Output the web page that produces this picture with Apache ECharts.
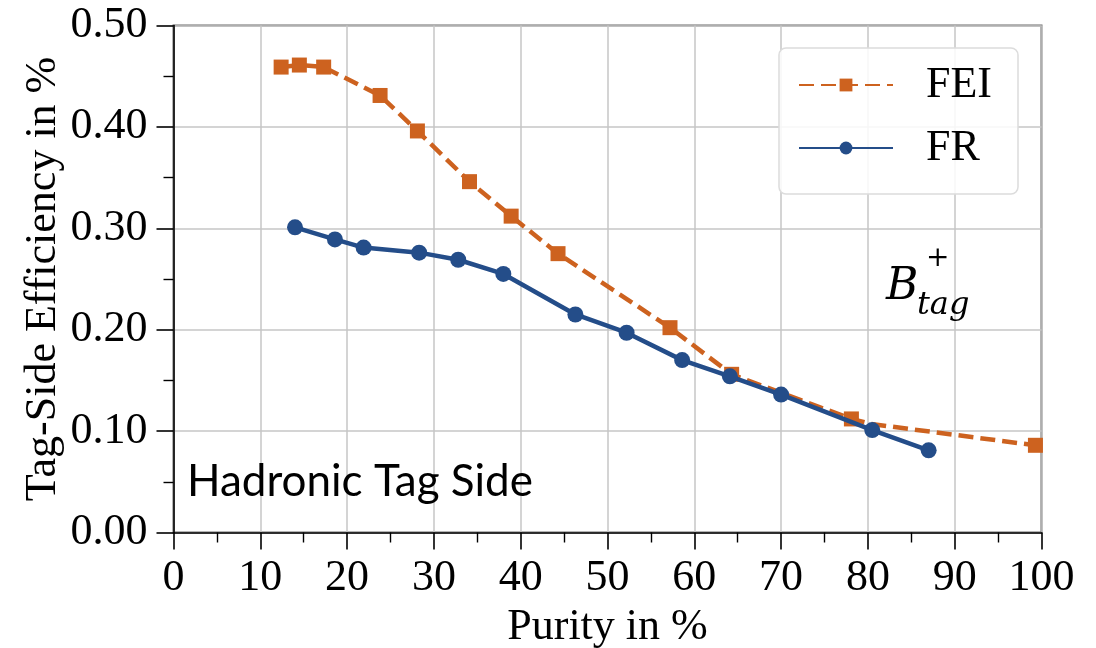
<!DOCTYPE html>
<html>
<head>
<meta charset="utf-8">
<script src="https://cdn.jsdelivr.net/npm/echarts@6/dist/echarts.min.js"></script>
<style>
  html, body { margin: 0; padding: 0; background: #fff; }
  #chart { width: 1096px; height: 648px; }
</style>
</head>
<body>
<div id="chart"></div>
<script>
// Tag-side efficiency versus purity for the hadronic B+ tag side
const seriesNames = ['FEI', 'FR'];

// FEI: purity (%) and efficiency (%)
const feiPurity = [12.4, 14.5, 17.3, 23.8, 28.1, 34.1, 38.9, 44.3, 57.2, 64.3, 78.1, 80.4, 99.3];
const feiEff    = [0.459, 0.461, 0.459, 0.431, 0.396, 0.346, 0.312, 0.275, 0.202, 0.156, 0.112, 0.107, 0.086];
// point hidden under the FR marker (line only)
const feiHiddenIdx = [11];

// FR: purity (%) and efficiency (%)
const frPurity = [14.0, 18.6, 21.9, 28.3, 32.8, 38.0, 46.3, 52.2, 58.6, 64.1, 70.0, 80.5, 87.0];
const frEff    = [0.301, 0.289, 0.281, 0.276, 0.269, 0.255, 0.215, 0.197, 0.170, 0.154, 0.136, 0.101, 0.081];

const xTicks = { min: 0, max: 100, step: 10 };
const yTicks = { min: 0, max: 0.5, step: 0.1 };

const serif = 'Liberation Serif';
const orange = '#cd621f';
const blue = '#244d89';

const feiData = feiPurity.map((x, i) =>
  feiHiddenIdx.includes(i) ? { value: [x, feiEff[i]], symbolSize: 0 } : [x, feiEff[i]]);
const frData = frPurity.map((x, i) => [x, frEff[i]]);

const chart = echarts.init(document.getElementById('chart'), null, { renderer: 'canvas' });

chart.setOption({
  animation: false,
  backgroundColor: '#fff',
  grid: {
    left: 173.5, right: 54.5, top: 25.5, bottom: 115.5,
    containLabel: false,
    outerBoundsMode: 'none',
    show: true, borderColor: '#6a6a6a', borderWidth: 2, backgroundColor: '#fff'
  },
  legend: {
    data: seriesNames,
    orient: 'vertical',
    right: 78, top: 48,
    padding: [15, 26, 24, 19],
    itemGap: 19,
    itemWidth: 94,
    itemHeight: 16,
    backgroundColor: 'rgba(255,255,255,0.85)',
    borderColor: '#dcdcdc',
    borderWidth: 1.5,
    borderRadius: 7,
    textStyle: { fontFamily: serif, fontSize: 44, color: '#000', padding: [0, 0, 0, 28] }
  },
  xAxis: {
    type: 'value',
    min: xTicks.min, max: xTicks.max, interval: xTicks.step,
    name: 'Purity in %',
    nameLocation: 'middle',
    nameGap: 72,
    nameTextStyle: { fontFamily: serif, fontSize: 44, color: '#000' },
    axisLine: { show: true, lineStyle: { color: '#000', width: 1.6 } },
    axisTick: { show: true, length: 17, lineStyle: { color: '#000', width: 1.6 } },
    minorTick: { show: true, splitNumber: 2, length: 10, lineStyle: { color: '#000', width: 1.4 } },
    axisLabel: { fontFamily: serif, fontSize: 44, color: '#000', margin: 24 },
    splitLine: { show: true, lineStyle: { color: '#c6c6c6', width: 1.5 } }
  },
  yAxis: {
    type: 'value',
    min: yTicks.min, max: yTicks.max, interval: yTicks.step,
    name: 'Tag-Side Efficiency in %',
    nameLocation: 'middle',
    nameGap: 108,
    nameMoveOverlap: false,
    nameTextStyle: { fontFamily: serif, fontSize: 44, color: '#000' },
    axisLine: { show: true, lineStyle: { color: '#000', width: 1.6 } },
    axisTick: { show: true, length: 17, lineStyle: { color: '#000', width: 1.6 } },
    minorTick: { show: true, splitNumber: 2, length: 10, lineStyle: { color: '#000', width: 1.4 } },
    axisLabel: { fontFamily: serif, fontSize: 44, color: '#000', margin: 26,
                 formatter: v => v.toFixed(2) },
    splitLine: { show: true, lineStyle: { color: '#c6c6c6', width: 1.5 } }
  },
  series: [
    {
      name: seriesNames[0],
      type: 'line',
      data: feiData,
      symbol: 'rect',
      symbolSize: 15,
      itemStyle: { color: orange },
      lineStyle: { color: orange, width: 4.5, type: [15, 7] },
      z: 2
    },
    {
      name: seriesNames[1],
      type: 'line',
      data: frData,
      symbol: 'circle',
      symbolSize: 16,
      itemStyle: { color: blue },
      lineStyle: { color: blue, width: 4.5 },
      z: 3
    }
  ],
  graphic: [
    {
      type: 'text', left: 187, top: 460, z: 10,
      style: { text: 'Hadronic Tag Side', font: '44px Lato', fill: '#000' }
    },
    {
      type: 'text', left: 886, top: 266, z: 10,
      style: { text: 'B', font: 'italic 44px "DejaVu Serif"', fill: '#000' }
    },
    {
      type: 'text', left: 926, top: 245, z: 10,
      style: { text: '+', font: '28px "DejaVu Serif"', fill: '#000' }
    },
    {
      type: 'text', left: 917, top: 290, z: 10,
      style: { text: 'tag', font: 'italic 32px "DejaVu Serif"', fill: '#000' }
    }
  ]
});
</script>
</body>
</html>
